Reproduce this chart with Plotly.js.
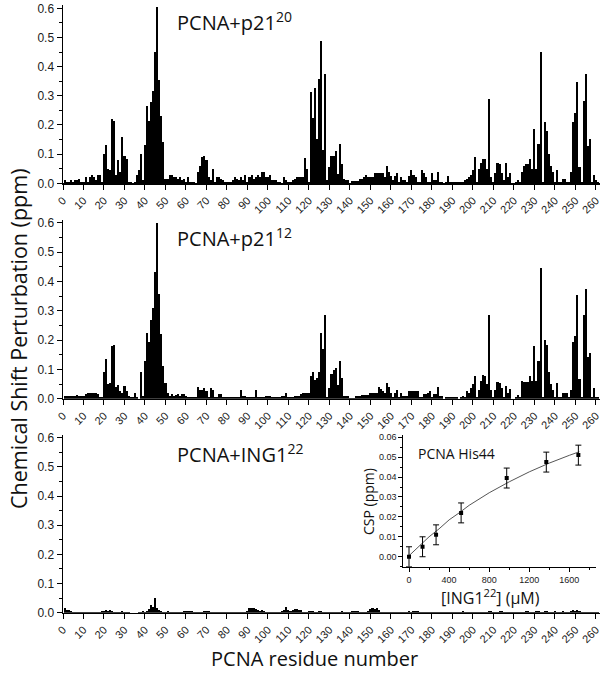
<!DOCTYPE html>
<html>
<head>
<meta charset="utf-8">
<script src="https://cdn.plot.ly/plotly-3.0.1.min.js"></script>
<style>html,body{margin:0;padding:0;background:#fff;}#chart{width:604px;height:679px;}</style>
</head>
<body>
<div id="chart"></div>
<script>
// CSP per PCNA residue (residues 1..261)
const cspP21_20 = [
0.01,0.005,0.005,0.01,0.005,0.01,0.01,0.015,0.005,0.005,
0.02,0.005,0.02,0.03,0.02,0.01,0.03,0.03,0.005,0.10,
0.13,0.05,0.045,0.22,0.215,0.03,0.08,0.04,0.16,0.095,
0.085,0.005,0.005,0.0,0.005,0.03,0.045,0.10,0.01,0.13,
0.265,0.215,0.28,0.315,0.45,0.605,0.355,0.23,0.14,0.015,
0.015,0.03,0.03,0.02,0.02,0.015,0.02,0.01,0.015,0.005,
0.02,0.005,0.005,0.005,0.0,0.04,0.06,0.09,0.095,0.08,
0.02,0.01,0.05,0.005,0.02,0.02,0.015,0.01,0.005,0.005,
0.005,0.005,0.01,0.02,0.015,0.01,0.02,0.01,0.03,0.005,
0.02,0.03,0.015,0.02,0.03,0.02,0.04,0.04,0.02,0.02,
0.03,0.01,0.01,0.01,0.005,0.005,0.0,0.02,0.01,0.005,
0.005,0.01,0.015,0.02,0.02,0.02,0.02,0.088,0.05,0.005,
0.313,0.225,0.328,0.153,0.357,0.488,0.115,0.376,0.01,0.056,
0.093,0.093,0.11,0.033,0.136,0.067,0.015,0.01,0.01,0.0,
0.008,0.008,0.008,0.008,0.015,0.015,0.02,0.03,0.02,0.02,
0.02,0.035,0.035,0.035,0.035,0.035,0.02,0.06,0.04,0.025,
0.01,0.025,0.035,0.005,0.02,0.01,0.01,0.005,0.025,0.045,
0.03,0.02,0.005,0.005,0.045,0.035,0.02,0.005,0.005,0.035,
0.01,0.01,0.04,0.005,0.005,0.0,0.005,0.025,0.005,0.005,
0.005,0.005,0.005,0.005,0.005,0.01,0.015,0.02,0.03,0.045,
0.09,0.005,0.05,0.07,0.085,0.085,0.05,0.288,0.02,0.005,
0.035,0.07,0.065,0.035,0.01,0.07,0.02,0.035,0.0,0.0,
0.005,0.012,0.005,0.04,0.06,0.065,0.065,0.085,0.05,0.187,
0.05,0.134,0.45,0.005,0.21,0.18,0.10,0.058,0.04,0.005,
0.045,0.005,0.005,0.015,0.015,0.005,0.005,0.04,0.21,0.24,
0.347,0.055,0.005,0.282,0.374,0.128,0.153,0.005,0.03,0.01,
0.005];

const cspP21_12 = [
0.01,0.01,0.008,0.01,0.01,0.01,0.012,0.01,0.008,0.01,
0.015,0.018,0.02,0.02,0.02,0.018,0.015,0.005,0.005,0.092,
0.134,0.05,0.055,0.18,0.184,0.04,0.048,0.025,0.02,0.043,
0.025,0.01,0.005,0.005,0.02,0.005,0.0,0.092,0.01,0.13,
0.223,0.195,0.27,0.31,0.433,0.6,0.356,0.22,0.11,0.055,
0.02,0.01,0.015,0.01,0.012,0.015,0.01,0.015,0.015,0.01,
0.005,0.005,0.005,0.005,0.005,0.04,0.03,0.03,0.035,0.025,
0.005,0.035,0.03,0.005,0.005,0.015,0.015,0.005,0.005,0.005,
0.005,0.005,0.005,0.005,0.005,0.005,0.03,0.01,0.01,0.005,
0.005,0.005,0.005,0.03,0.005,0.005,0.005,0.005,0.01,0.01,
0.01,0.005,0.005,0.005,0.005,0.005,0.01,0.01,0.02,0.005,
0.005,0.005,0.01,0.01,0.01,0.015,0.02,0.02,0.02,0.02,
0.078,0.092,0.064,0.07,0.092,0.225,0.17,0.284,0.005,0.035,
0.083,0.098,0.103,0.047,0.128,0.07,0.01,0.01,0.01,0.003,
0.003,0.003,0.008,0.008,0.008,0.012,0.012,0.012,0.012,0.02,
0.02,0.02,0.02,0.04,0.032,0.027,0.02,0.052,0.04,0.02,
0.005,0.02,0.03,0.005,0.02,0.01,0.01,0.01,0.025,0.025,
0.025,0.025,0.025,0.005,0.005,0.015,0.015,0.02,0.025,0.005,
0.015,0.015,0.04,0.01,0.01,0.0,0.005,0.005,0.005,0.005,
0.005,0.005,0.0,0.005,0.01,0.005,0.025,0.02,0.035,0.05,
0.078,0.005,0.03,0.06,0.082,0.077,0.05,0.284,0.03,0.005,
0.03,0.057,0.052,0.035,0.005,0.045,0.02,0.032,0.0,0.0,
0.005,0.012,0.005,0.06,0.058,0.058,0.058,0.077,0.06,0.18,
0.06,0.13,0.444,0.005,0.2,0.183,0.092,0.05,0.03,0.005,
0.052,0.005,0.005,0.02,0.02,0.02,0.005,0.03,0.192,0.215,
0.353,0.066,0.005,0.285,0.373,0.143,0.155,0.005,0.035,0.005,
0.005];

const cspING1_22 = [
0.017,0.01,0.008,0.005,0.003,0.002,0.003,0.002,0.002,0.003,
0.002,0.002,0.003,0.004,0.003,0.002,0.003,0.004,0.006,0.007,
0.008,0.007,0.008,0.006,0.004,0.003,0.002,0.004,0.005,0.003,
0.002,0.002,0.0,0.0,0.0,0.0,0.003,0.004,0.006,0.003,
0.005,0.012,0.028,0.018,0.05,0.015,0.01,0.006,0.003,0.002,
0.005,0.003,0.002,0.002,0.002,0.003,0.002,0.004,0.006,0.007,
0.006,0.007,0.005,0.004,0.003,0.002,0.003,0.002,0.006,0.005,
0.005,0.003,0.002,0.002,0.002,0.002,0.002,0.003,0.002,0.002,
0.003,0.002,0.002,0.002,0.003,0.002,0.002,0.003,0.004,0.005,
0.015,0.016,0.015,0.012,0.008,0.006,0.008,0.006,0.003,0.002,
0.002,0.003,0.002,0.003,0.002,0.004,0.005,0.008,0.018,0.01,
0.005,0.01,0.011,0.012,0.01,0.008,0.004,0.003,0.002,0.005,
0.006,0.005,0.004,0.003,0.005,0.006,0.004,0.003,0.002,0.003,
0.004,0.003,0.002,0.003,0.004,0.005,0.003,0.002,0.003,0.002,
0.005,0.007,0.006,0.005,0.003,0.002,0.004,0.003,0.005,0.012,
0.017,0.014,0.016,0.008,0.003,0.002,0.003,0.002,0.002,0.003,
0.002,0.002,0.002,0.003,0.002,0.002,0.003,0.004,0.005,0.004,
0.006,0.007,0.005,0.004,0.003,0.002,0.003,0.002,0.002,0.003,
0.003,0.002,0.002,0.003,0.004,0.003,0.002,0.002,0.003,0.004,
0.003,0.002,0.003,0.004,0.005,0.004,0.003,0.002,0.003,0.004,
0.003,0.002,0.003,0.004,0.003,0.002,0.003,0.005,0.006,0.004,
0.003,0.002,0.006,0.007,0.004,0.003,0.002,0.003,0.002,0.003,
0.002,0.003,0.004,0.003,0.002,0.005,0.006,0.004,0.003,0.002,
0.005,0.006,0.003,0.002,0.006,0.007,0.003,0.002,0.004,0.005,
0.003,0.002,0.003,0.005,0.004,0.003,0.002,0.006,0.008,0.007,
0.008,0.005,0.003,0.002,0.003,0.004,0.003,0.002,0.003,0.002,
0.002];

const residues = cspP21_20.map((_, i) => i + 1);

// Inset: titration of His44
const titrConc = [0, 135, 270, 520, 975, 1370, 1690];
const titrCSP  = [0.000, 0.005, 0.011, 0.022, 0.0395, 0.0475, 0.051];
const titrErr  = [0.005, 0.005, 0.005, 0.005, 0.005, 0.005, 0.005];
const fitConc = [0, 100, 200, 300, 400, 500, 600, 800, 1000, 1200, 1400, 1600, 1700];
const fitCSP  = [0.0005, 0.0052, 0.0100, 0.0140, 0.0185, 0.0220, 0.0258, 0.0321, 0.0376, 0.0426, 0.0470, 0.0509, 0.0527];

const panelLabels = ['PCNA+p21<sup>20</sup>', 'PCNA+p21<sup>12</sup>', 'PCNA+ING1<sup>22</sup>'];
const xTickVals = [0,10,20,30,40,50,60,70,80,90,100,110,120,130,140,150,160,170,180,190,200,210,220,230,240,250,260];
const yTickVals = [0.0,0.1,0.2,0.3,0.4,0.5,0.6];
const insetXTicks = [0,400,800,1200,1600];
const insetYTicks = [0.00,0.01,0.02,0.03,0.04,0.05,0.06];

const W = 604, H = 679;
const tickFont = {family: 'Liberation Sans, Arial, sans-serif', size: 12, color: '#1a1a1a'};
const titleFamily = 'Open Sans, Noto Sans, sans-serif';

function bar(y, xa, ya) {
  return {type: 'bar', x: residues, y: y, xaxis: xa, yaxis: ya,
    marker: {color: '#000', line: {width: 0}}, hoverinfo: 'skip', showlegend: false};
}

const data = [
  bar(cspP21_20, 'x', 'y'),
  bar(cspP21_12, 'x2', 'y2'),
  bar(cspING1_22, 'x3', 'y3'),
  {type: 'scatter', mode: 'lines', x: fitConc, y: fitCSP, xaxis: 'x4', yaxis: 'y4',
    line: {color: '#555', width: 1}, showlegend: false, hoverinfo: 'skip'},
  {type: 'scatter', mode: 'markers', x: titrConc, y: titrCSP, xaxis: 'x4', yaxis: 'y4',
    marker: {symbol: 'square', size: 4, color: '#000'},
    error_y: {type: 'data', array: titrErr, visible: true, color: '#000', thickness: 1, width: 3},
    showlegend: false, hoverinfo: 'skip'}
];

const xDom = [63/W, 600/W];
function mainX(anchor) {
  return {domain: xDom, range: [0, 262], anchor: anchor, showline: true, linecolor: '#000', linewidth: 1.5,
    ticks: 'outside', ticklen: 5, tickwidth: 1, tickcolor: '#000', tickvals: xTickVals,
    tickangle: -45, tickfont: {family: tickFont.family, size: 11, color: '#1a1a1a'},
    showgrid: false, zeroline: false, fixedrange: true};
}
function mainY(anchor, dom) {
  return {domain: dom, range: [0, 0.61], anchor: anchor, showline: true, linecolor: '#000', linewidth: 1.5,
    ticks: 'outside', ticklen: 5, tickwidth: 1, tickcolor: '#000', tickvals: yTickVals,
    tickformat: '.1f', tickfont: tickFont, showgrid: false, zeroline: false, fixedrange: true,
    minor: {dtick: 0.05, ticks: 'outside', ticklen: 3, tickcolor: '#000', showgrid: false}};
}

const layout = {
  width: W, height: H, margin: {l: 0, r: 0, t: 0, b: 0},
  paper_bgcolor: '#fff', plot_bgcolor: 'rgba(0,0,0,0)',
  bargap: 0, showlegend: false,
  xaxis: mainX('y'),
  yaxis: mainY('x', [1 - 183.3/H, 1 - 5.4/H]),
  xaxis2: mainX('y2'),
  yaxis2: mainY('x2', [1 - 398.7/H, 1 - 219.8/H]),
  xaxis3: mainX('y3'),
  yaxis3: mainY('x3', [1 - 612.7/H, 1 - 434.8/H]),
  xaxis4: {domain: [403.3/W, 596/W], range: [-57, 1866], anchor: 'y4', showline: true, linecolor: '#000', linewidth: 1,
    ticks: 'outside', ticklen: 4, tickcolor: '#000', tickvals: insetXTicks,
    tickfont: {family: tickFont.family, size: 9, color: '#1a1a1a'}, showgrid: false, zeroline: false,
    minor: {dtick: 200, tick0: 0, ticks: 'outside', ticklen: 2, tickcolor: '#000', showgrid: false}},
  yaxis4: {domain: [1 - 566.7/H, 1 - 435/H], range: [-0.005, 0.0611], anchor: 'x4', showline: true, linecolor: '#000', linewidth: 1,
    ticks: 'outside', ticklen: 4, tickcolor: '#000', tickvals: insetYTicks, tickformat: '.2f',
    tickfont: {family: tickFont.family, size: 9, color: '#1a1a1a'}, showgrid: false, zeroline: false,
    minor: {dtick: 0.005, ticks: 'outside', ticklen: 2, tickcolor: '#000', showgrid: false}},
  annotations: [
    {text: panelLabels[0], xref: 'paper', yref: 'paper', x: 175/W, y: 1 - 22/H, xanchor: 'left', yanchor: 'middle',
      showarrow: false, font: {family: titleFamily, size: 20, color: '#111'}},
    {text: panelLabels[1], xref: 'paper', yref: 'paper', x: 175/W, y: 1 - 237/H, xanchor: 'left', yanchor: 'middle',
      showarrow: false, font: {family: titleFamily, size: 20, color: '#111'}},
    {text: panelLabels[2], xref: 'paper', yref: 'paper', x: 175/W, y: 1 - 453/H, xanchor: 'left', yanchor: 'middle',
      showarrow: false, font: {family: titleFamily, size: 20, color: '#111'}},
    {text: 'Chemical Shift Perturbation (ppm)', xref: 'paper', yref: 'paper', x: 18/W, y: 1 - 339/H,
      xanchor: 'center', yanchor: 'middle', textangle: -90, showarrow: false,
      font: {family: titleFamily, size: 21.5, color: '#111'}},
    {text: 'PCNA residue number', xref: 'paper', yref: 'paper', x: 314/W, y: 1 - 658/H,
      xanchor: 'center', yanchor: 'middle', showarrow: false,
      font: {family: titleFamily, size: 20, color: '#111'}},
    {text: 'PCNA His44', xref: 'paper', yref: 'paper', x: 456/W, y: 1 - 454/H,
      xanchor: 'center', yanchor: 'middle', showarrow: false,
      font: {family: titleFamily, size: 14, color: '#111'}},
    {text: 'CSP (ppm)', xref: 'paper', yref: 'paper', x: 368/W, y: 1 - 502/H,
      xanchor: 'center', yanchor: 'middle', textangle: -90, showarrow: false,
      font: {family: titleFamily, size: 14, color: '#111'}},
    {text: '[ING1<sup>22</sup>] (\u03bcM)', xref: 'paper', yref: 'paper', x: 490/W, y: 1 - 597/H,
      xanchor: 'center', yanchor: 'middle', showarrow: false,
      font: {family: titleFamily, size: 16, color: '#111'}}
  ]
};

Plotly.newPlot('chart', data, layout, {staticPlot: true, displayModeBar: false});
</script>
</body>
</html>
